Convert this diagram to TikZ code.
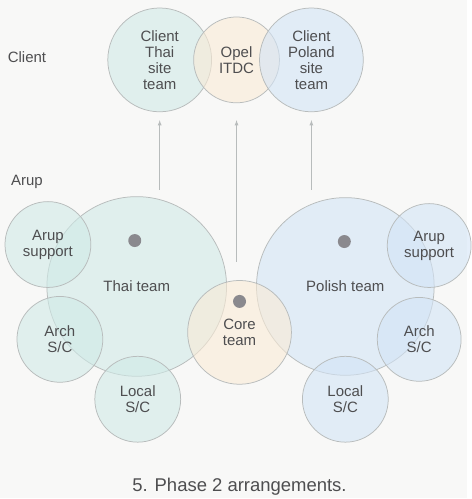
\documentclass[tikz,border=0pt]{standalone}
\usepackage{fontspec}
\setmainfont{Liberation Sans}
\usepackage{xcolor}
\usetikzlibrary{shapes,arrows}
\usetikzlibrary{positioning}

\definecolor{bgpaper}{HTML}{F8F8F7}
\definecolor{ringgray}{HTML}{B8BCBC}
\definecolor{inkgray}{HTML}{4E4E50}
\definecolor{dotgray}{HTML}{8A898E}
\definecolor{thaifill}{HTML}{D0EAE7}
\definecolor{opelfill}{HTML}{FAEBD6}
\definecolor{polfill}{HTML}{D3E4F6}

\begin{document}
\begin{tikzpicture}[x=1pt, y=-1pt]
\tikzset{
team/.style={circle, draw=ringgray, line width=0.75pt, fill opacity=0.6,
    text opacity=1, minimum size=#1, inner sep=0pt, align=center, text=inkgray,
    font=\fontsize{15}{16}\selectfont},
thai/.style={team=#1, fill=thaifill},
opel/.style={team=#1, fill=opelfill},
polish/.style={team=#1, fill=polfill},
hub/.style={circle, fill=dotgray, minimum size=13pt, inner sep=0pt},
sidelabel/.style={text=inkgray, font=\fontsize{15}{16}\selectfont},
flow/.style={draw=ringgray, line width=0.8pt, -latex}
 }
\fill[bgpaper] (0,0) rectangle (468,499);

% client side
\node[thai=104pt] (cthai) at (160,60) {Client\\Thai\\site\\team};
\node[opel=86pt] (opel) at (237,60) {Opel\\ITDC};
\node[polish=104pt] (cpoland) at (312,60) {Client\\Poland\\site\\team};
\node[sidelabel] (clientlbl) at (27,57) {Client};

% arup side
\node[sidelabel] (aruplbl) at (27,182) {Arup};
\node[thai=180pt] (thaiteam) at (137,287) {Thai team};
\node[polish=178pt] (polteam) at (346,287) {Polish team};
\node[opel=104pt] (core) at (240,333) {Core\\team};
\node[thai=86pt] (arupl) at (48,245) {Arup\\support};
\node[thai=86pt] (archl) at (60,340) {Arch\\S/C};
\node[thai=86pt] (locall) at (138,400) {Local\\S/C};
\node[polish=84pt] (arupr) at (430,246) {Arup\\support};
\node[polish=84pt] (archr) at (420,340) {Arch\\S/C};
\node[polish=86pt] (localr) at (346,400) {Local\\S/C};

\node[hub] (thaidot) at (135,241) {};
\node[hub] (coredot) at (240,302) {};
\node[hub] (poldot) at (345,242) {};

\coordinate (thaifoot) at (160,190);
\coordinate (corefoot) at (237,262);
\coordinate (polfoot) at (312,190);
\draw[flow, shorten >=8pt] (thaifoot) -- (cthai.south);
\draw[flow, shorten >=17pt] (corefoot) -- (opel.south);
\draw[flow, shorten >=8pt] (polfoot) -- (cpoland.south);

\node[text=inkgray, font=\fontsize{18.5}{20}\selectfont] (caption) at (240,488)
    {5. Phase 2 arrangements.};
\end{tikzpicture}
\end{document}
